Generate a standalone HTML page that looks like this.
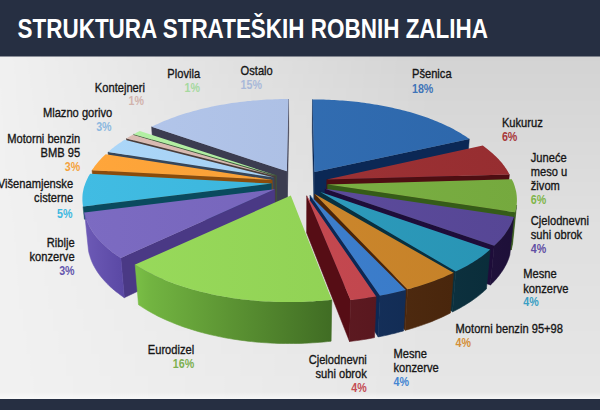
<!DOCTYPE html>
<html><head><meta charset="utf-8"><title>Struktura strateških robnih zaliha</title>
<style>
html,body{margin:0;padding:0;background:#e9e9e9}
body{width:600px;height:410px;overflow:hidden;position:relative;font-family:"Liberation Sans",Arial,sans-serif}
svg{position:absolute;left:0;top:0;display:block}
text{font-family:"Liberation Sans",Arial,sans-serif}
</style></head><body>
<svg width="600" height="410" viewBox="0 0 600 410">
<defs>
<linearGradient id="bgv" x1="0" y1="0" x2="0" y2="1"><stop offset="0" stop-color="#000" stop-opacity="0.125"/><stop offset="0.5" stop-color="#000" stop-opacity="0.075"/><stop offset="1" stop-color="#000" stop-opacity="0.045"/></linearGradient>
<linearGradient id="bgh" x1="0" y1="0" x2="1" y2="0"><stop offset="0" stop-color="#fff" stop-opacity="0.05"/><stop offset="0.72" stop-color="#fff" stop-opacity="1"/><stop offset="1" stop-color="#fff" stop-opacity="1"/></linearGradient>
<mask id="bgm" maskUnits="userSpaceOnUse" x="0" y="0" width="600" height="410"><rect x="0" y="0" width="600" height="410" fill="url(#bgh)"/></mask>
<linearGradient id="bgbot" x1="0" y1="0" x2="0" y2="1"><stop offset="0" stop-color="#fff" stop-opacity="0"/><stop offset="1" stop-color="#fff" stop-opacity="0.6"/></linearGradient>
</defs>
<rect x="0" y="0" width="600" height="410" fill="#f2f2f2"/>
<rect x="0" y="56" width="600" height="343" fill="url(#bgv)" mask="url(#bgm)"/>
<rect x="0" y="392" width="600" height="7" fill="url(#bgbot)"/>
<rect x="0" y="0" width="600" height="56.5" fill="#262f42"/>
<rect x="0" y="399" width="600" height="11" fill="#262f42"/>
<text x="17.5" y="37.5" font-size="27" font-weight="bold" fill="#ffffff" textLength="470.5" lengthAdjust="spacingAndGlyphs">STRUKTURA STRATEŠKIH ROBNIH ZALIHA</text>
<g>
<defs><linearGradient id="t0" gradientUnits="userSpaceOnUse" x1="80" y1="0" x2="520" y2="0"><stop offset="0" stop-color="#3773b8"/><stop offset="1" stop-color="#2c66aa"/></linearGradient><linearGradient id="w0" gradientUnits="userSpaceOnUse" x1="80" y1="0" x2="520" y2="0"><stop offset="0" stop-color="#284779"/><stop offset="1" stop-color="#0c2650"/></linearGradient><linearGradient id="t1" gradientUnits="userSpaceOnUse" x1="80" y1="0" x2="520" y2="0"><stop offset="0" stop-color="#a4383b"/><stop offset="1" stop-color="#962d30"/></linearGradient><linearGradient id="w1" gradientUnits="userSpaceOnUse" x1="80" y1="0" x2="520" y2="0"><stop offset="0" stop-color="#742d31"/><stop offset="1" stop-color="#4b1014"/></linearGradient><linearGradient id="t2" gradientUnits="userSpaceOnUse" x1="80" y1="0" x2="520" y2="0"><stop offset="0" stop-color="#81b74a"/><stop offset="1" stop-color="#75a93e"/></linearGradient><linearGradient id="w2" gradientUnits="userSpaceOnUse" x1="80" y1="0" x2="520" y2="0"><stop offset="0" stop-color="#578035"/><stop offset="1" stop-color="#335617"/></linearGradient><linearGradient id="t3" gradientUnits="userSpaceOnUse" x1="80" y1="0" x2="520" y2="0"><stop offset="0" stop-color="#6351a3"/><stop offset="1" stop-color="#564695"/></linearGradient><linearGradient id="w3" gradientUnits="userSpaceOnUse" x1="80" y1="0" x2="520" y2="0"><stop offset="0" stop-color="#3d2c5d"/><stop offset="1" stop-color="#1d0f38"/></linearGradient><linearGradient id="t4" gradientUnits="userSpaceOnUse" x1="80" y1="0" x2="520" y2="0"><stop offset="0" stop-color="#33a1c3"/><stop offset="1" stop-color="#2894b4"/></linearGradient><linearGradient id="w4" gradientUnits="userSpaceOnUse" x1="80" y1="0" x2="520" y2="0"><stop offset="0" stop-color="#234d5d"/><stop offset="1" stop-color="#082b38"/></linearGradient><linearGradient id="t5" gradientUnits="userSpaceOnUse" x1="80" y1="0" x2="520" y2="0"><stop offset="0" stop-color="#d38d32"/><stop offset="1" stop-color="#c48027"/></linearGradient><linearGradient id="w5" gradientUnits="userSpaceOnUse" x1="80" y1="0" x2="520" y2="0"><stop offset="0" stop-color="#6a4123"/><stop offset="1" stop-color="#432108"/></linearGradient><linearGradient id="t6" gradientUnits="userSpaceOnUse" x1="80" y1="0" x2="520" y2="0"><stop offset="0" stop-color="#4385d4"/><stop offset="1" stop-color="#3778c5"/></linearGradient><linearGradient id="w6" gradientUnits="userSpaceOnUse" x1="80" y1="0" x2="520" y2="0"><stop offset="0" stop-color="#274574"/><stop offset="1" stop-color="#0b244b"/></linearGradient><linearGradient id="t7" gradientUnits="userSpaceOnUse" x1="80" y1="0" x2="520" y2="0"><stop offset="0" stop-color="#cb4e56"/><stop offset="1" stop-color="#bd434a"/></linearGradient><linearGradient id="w7" gradientUnits="userSpaceOnUse" x1="80" y1="0" x2="520" y2="0"><stop offset="0" stop-color="#752b33"/><stop offset="1" stop-color="#4c0e15"/></linearGradient><linearGradient id="t8" gradientUnits="userSpaceOnUse" x1="80" y1="0" x2="520" y2="0"><stop offset="0" stop-color="#99db5c"/><stop offset="1" stop-color="#8ccc50"/></linearGradient><linearGradient id="w8" gradientUnits="userSpaceOnUse" x1="80" y1="0" x2="520" y2="0"><stop offset="0.125" stop-color="#7abf46"/><stop offset="0.160" stop-color="#72b441"/><stop offset="0.340" stop-color="#5c9433"/><stop offset="0.580" stop-color="#3f6b23"/></linearGradient><linearGradient id="t9" gradientUnits="userSpaceOnUse" x1="80" y1="0" x2="520" y2="0"><stop offset="0" stop-color="#7c6bc2"/><stop offset="1" stop-color="#705fb4"/></linearGradient><linearGradient id="w9" gradientUnits="userSpaceOnUse" x1="80" y1="0" x2="520" y2="0"><stop offset="0.000" stop-color="#6f5cb8"/><stop offset="0.100" stop-color="#5a48a4"/></linearGradient><linearGradient id="t10" gradientUnits="userSpaceOnUse" x1="80" y1="0" x2="520" y2="0"><stop offset="0" stop-color="#41bce3"/><stop offset="1" stop-color="#36aed4"/></linearGradient><linearGradient id="w10" gradientUnits="userSpaceOnUse" x1="80" y1="0" x2="520" y2="0"><stop offset="0" stop-color="#318ca6"/><stop offset="1" stop-color="#145f75"/></linearGradient><linearGradient id="t11" gradientUnits="userSpaceOnUse" x1="80" y1="0" x2="520" y2="0"><stop offset="0" stop-color="#ffa63b"/><stop offset="1" stop-color="#f09830"/></linearGradient><linearGradient id="w11" gradientUnits="userSpaceOnUse" x1="80" y1="0" x2="520" y2="0"><stop offset="0" stop-color="#bf792f"/><stop offset="1" stop-color="#8a5012"/></linearGradient><linearGradient id="t12" gradientUnits="userSpaceOnUse" x1="80" y1="0" x2="520" y2="0"><stop offset="0" stop-color="#acd7f9"/><stop offset="1" stop-color="#9fc8ea"/></linearGradient><linearGradient id="w12" gradientUnits="userSpaceOnUse" x1="80" y1="0" x2="520" y2="0"><stop offset="0" stop-color="#7da1c1"/><stop offset="1" stop-color="#53718c"/></linearGradient><linearGradient id="t13" gradientUnits="userSpaceOnUse" x1="80" y1="0" x2="520" y2="0"><stop offset="0" stop-color="#dbbcb4"/><stop offset="1" stop-color="#ccaea6"/></linearGradient><linearGradient id="w13" gradientUnits="userSpaceOnUse" x1="80" y1="0" x2="520" y2="0"><stop offset="0" stop-color="#9a847e"/><stop offset="1" stop-color="#6b5854"/></linearGradient><linearGradient id="t14" gradientUnits="userSpaceOnUse" x1="80" y1="0" x2="520" y2="0"><stop offset="0" stop-color="#b4f2a5"/><stop offset="1" stop-color="#a6e397"/></linearGradient><linearGradient id="w14" gradientUnits="userSpaceOnUse" x1="80" y1="0" x2="520" y2="0"><stop offset="0" stop-color="#7db175"/><stop offset="1" stop-color="#537e4c"/></linearGradient><linearGradient id="t15" gradientUnits="userSpaceOnUse" x1="80" y1="0" x2="520" y2="0"><stop offset="0" stop-color="#b4c7ec"/><stop offset="1" stop-color="#a6b9dd"/></linearGradient><linearGradient id="w15" gradientUnits="userSpaceOnUse" x1="80" y1="0" x2="520" y2="0"><stop offset="0" stop-color="#94a2c1"/><stop offset="1" stop-color="#66728c"/></linearGradient></defs>
<path d="M314.4 171.9L312.5 99.5L312.3 132.0L314.2 207.9Z" fill="#0b2855" stroke="#0b2855" stroke-width="0.5"/>
<path d="M314.4 171.9L469.3 138.9L466.5 173.4L314.2 207.9Z" fill="#0b2855" stroke="#0b2855" stroke-width="0.5"/>
<path d="M326.8 179.5L509.4 174.5L505.8 210.6L326.3 215.9Z" fill="#4e0e12" stroke="#4e0e12" stroke-width="0.5"/>
<path d="M327.6 184.4L515.1 212.2L511.1 250.0L327.1 221.0Z" fill="#355c18" stroke="#355c18" stroke-width="0.5"/>
<path d="M516.6 205.0L516.4 206.4L516.1 207.8L515.8 209.3L515.5 210.7L515.1 212.2L511.1 250.0L511.5 248.5L511.9 247.0L512.2 245.5L512.5 244.0L512.7 242.5Z" fill="url(#w2)" stroke="url(#w2)" stroke-width="0.6"/>
<path d="M325.0 188.7L494.2 245.7L490.4 285.0L324.5 225.5Z" fill="#1e0d3a" stroke="#1e0d3a" stroke-width="0.5"/>
<path d="M513.8 216.9L513.3 218.5L512.7 220.0L512.1 221.6L511.5 223.1L510.7 224.7L509.9 226.2L509.1 227.8L508.2 229.3L507.2 230.8L506.2 232.3L505.1 233.9L504.0 235.4L502.7 236.9L501.5 238.4L500.1 239.9L498.8 241.3L497.3 242.8L495.8 244.3L494.2 245.7L490.4 285.0L492.0 283.5L493.5 281.9L494.9 280.4L496.3 278.9L497.6 277.3L498.9 275.8L500.0 274.2L501.2 272.6L502.3 271.0L503.3 269.4L504.2 267.9L505.1 266.3L506.0 264.7L506.8 263.1L507.5 261.4L508.2 259.8L508.8 258.2L509.3 256.6L509.8 255.0Z" fill="url(#w3)" stroke="url(#w3)" stroke-width="0.6"/>
<path d="M320.3 191.9L455.7 271.6L452.6 311.8L319.9 228.8Z" fill="#08303f" stroke="#08303f" stroke-width="0.5"/>
<path d="M490.1 249.6L488.4 251.0L486.7 252.5L484.9 254.0L483.0 255.4L481.0 256.9L479.0 258.3L477.0 259.7L474.9 261.1L472.7 262.5L470.4 263.8L468.1 265.2L465.8 266.5L463.3 267.8L460.9 269.1L458.3 270.3L455.7 271.6L452.6 311.8L455.1 310.6L457.6 309.3L460.1 307.9L462.4 306.6L464.8 305.2L467.0 303.8L469.2 302.4L471.4 301.0L473.5 299.5L475.5 298.1L477.5 296.6L479.4 295.1L481.2 293.6L483.0 292.1L484.7 290.5L486.4 289.0Z" fill="url(#w4)" stroke="url(#w4)" stroke-width="0.6"/>
<path d="M314.7 194.1L407.5 289.3L405.2 330.3L314.5 231.1Z" fill="#4c2408" stroke="#4c2408" stroke-width="0.5"/>
<path d="M453.5 272.7L451.0 273.9L448.4 275.1L445.8 276.2L443.2 277.4L440.4 278.5L437.7 279.6L434.8 280.7L432.0 281.8L429.1 282.8L426.1 283.8L423.1 284.8L420.1 285.7L417.0 286.7L413.9 287.6L410.7 288.5L407.5 289.3L405.2 330.3L408.4 329.4L411.5 328.5L414.6 327.6L417.6 326.6L420.6 325.6L423.5 324.6L426.4 323.5L429.3 322.5L432.1 321.4L434.8 320.2L437.6 319.1L440.2 317.9L442.9 316.7L445.4 315.5L447.9 314.3L450.4 313.0Z" fill="url(#w5)" stroke="url(#w5)" stroke-width="0.6"/>
<path d="M310.0 195.2L379.9 295.7L378.2 336.9L309.8 232.3Z" fill="#0c2855" stroke="#0c2855" stroke-width="0.5"/>
<path d="M405.8 289.9L402.6 290.7L399.5 291.5L396.3 292.3L393.1 293.0L389.8 293.7L386.6 294.4L383.3 295.1L379.9 295.7L378.2 336.9L381.5 336.3L384.8 335.6L388.0 334.9L391.2 334.1L394.3 333.4L397.4 332.6L400.5 331.7L403.6 330.9Z" fill="url(#w6)" stroke="url(#w6)" stroke-width="0.6"/>
<path d="M306.7 195.7L350.5 300.1L349.5 341.5L306.6 232.8Z" fill="#560d15" stroke="#560d15" stroke-width="0.5"/>
<path d="M376.1 296.4L372.6 297.0L368.9 297.6L365.3 298.2L361.6 298.7L358.0 299.2L354.3 299.7L350.5 300.1L349.5 341.5L353.1 341.0L356.7 340.6L360.3 340.1L363.9 339.5L367.5 338.9L371.0 338.3L374.5 337.6Z" fill="url(#w7)" stroke="url(#w7)" stroke-width="0.6"/>
<path d="M286.9 171.3L151.6 126.8L154.0 160.7L287.1 207.3Z" fill="#3b3c50" stroke="#3b3c50" stroke-width="0.5"/>
<path d="M286.9 171.3L288.5 99.0L288.7 131.6L287.1 207.3Z" fill="#3b3c50" stroke="#3b3c50" stroke-width="0.5"/>
<path d="M276.4 175.5L133.7 134.2L136.4 168.5L276.8 211.8Z" fill="#3c5a3a" stroke="#3c5a3a" stroke-width="0.5"/>
<path d="M275.5 176.2L126.4 138.5L129.2 173.0L275.9 212.4Z" fill="#4a3c3a" stroke="#4a3c3a" stroke-width="0.5"/>
<path d="M274.0 177.6L108.0 152.1L111.2 187.3L274.4 213.9Z" fill="#36465a" stroke="#36465a" stroke-width="0.5"/>
<path d="M272.2 179.9L92.0 170.2L95.6 206.2L272.7 216.3Z" fill="#8a4c0c" stroke="#8a4c0c" stroke-width="0.5"/>
<path d="M271.4 183.6L83.0 206.5L84.4 219.2L271.9 220.2Z" fill="#0a4a5e" stroke="#0a4a5e" stroke-width="0.5"/>
<path d="M274.7 189.2L120.8 257.9L124.3 297.7L275.1 226.0Z" fill="#4a3985" stroke="#4a3985" stroke-width="0.5"/>
<path d="M120.8 257.9L118.7 256.5L116.6 255.2L114.7 253.8L112.7 252.4L110.9 250.9L109.1 249.5L107.4 248.0L105.7 246.6L104.1 245.1L102.5 243.6L101.0 242.1L99.6 240.6L98.2 239.1L96.9 237.6L95.7 236.0L94.5 234.5L93.4 233.0L92.4 231.4L91.4 229.8L90.5 228.3L89.6 226.7L88.8 225.1L88.0 223.6L87.4 222.0L86.8 220.4L86.2 218.8L85.7 217.3L85.3 215.7L84.9 214.1L84.6 212.5L88.5 250.4L88.8 252.0L89.2 253.7L89.7 255.3L90.2 257.0L90.7 258.6L91.3 260.3L92.0 261.9L92.7 263.5L93.5 265.2L94.4 266.8L95.3 268.4L96.3 270.1L97.3 271.7L98.4 273.3L99.6 274.9L100.8 276.5L102.1 278.1L103.5 279.7L104.9 281.2L106.3 282.8L107.9 284.3L109.4 285.9L111.1 287.4L112.8 288.9L114.6 290.4L116.4 291.9L118.3 293.3L120.2 294.8L122.2 296.2L124.3 297.7Z" fill="url(#w9)" stroke="url(#w9)" stroke-width="0.6"/>
<path d="M331.8 299.8L328.0 300.2L324.2 300.5L320.3 300.9L316.5 301.1L312.6 301.4L308.7 301.6L304.9 301.8L301.0 301.9L297.1 302.0L293.2 302.1L289.3 302.1L285.4 302.1L281.5 302.0L277.6 301.9L273.7 301.8L269.9 301.6L266.0 301.4L262.1 301.2L258.3 300.9L254.5 300.6L250.7 300.2L246.9 299.8L243.1 299.4L239.4 298.9L235.6 298.4L231.9 297.9L228.3 297.3L224.6 296.7L221.0 296.0L217.4 295.4L213.9 294.7L210.4 293.9L206.9 293.1L203.4 292.3L200.0 291.5L196.7 290.6L193.3 289.7L190.1 288.8L186.8 287.8L183.6 286.8L180.5 285.8L177.4 284.8L174.4 283.7L171.4 282.6L168.4 281.4L165.5 280.3L162.7 279.1L159.9 277.9L157.2 276.7L154.5 275.4L151.9 274.1L149.3 272.8L146.8 271.5L144.4 270.2L142.0 268.8L139.7 267.4L137.4 266.1L135.2 264.6L138.5 304.7L140.6 306.1L142.9 307.6L145.2 309.0L147.5 310.4L149.9 311.8L152.4 313.2L154.9 314.5L157.4 315.9L160.1 317.2L162.7 318.4L165.5 319.7L168.3 320.9L171.1 322.1L174.0 323.3L176.9 324.4L179.9 325.6L182.9 326.7L186.0 327.7L189.2 328.7L192.3 329.7L195.5 330.7L198.8 331.7L202.1 332.6L205.4 333.4L208.8 334.3L212.2 335.1L215.7 335.8L219.1 336.6L222.6 337.3L226.2 338.0L229.8 338.6L233.4 339.2L237.0 339.7L240.6 340.3L244.3 340.7L248.0 341.2L251.7 341.6L255.4 342.0L259.2 342.3L262.9 342.6L266.7 342.8L270.5 343.1L274.3 343.2L278.1 343.4L281.9 343.5L285.7 343.5L289.5 343.5L293.3 343.5L297.1 343.5L300.9 343.4L304.7 343.2L308.5 343.1L312.3 342.8L316.1 342.6L319.9 342.3L323.6 342.0L327.4 341.6L331.1 341.2Z" fill="url(#w8)" stroke="url(#w8)" stroke-width="0.6"/>
<path d="M314.4 171.9L312.5 99.5L315.3 99.5L318.0 99.5L320.7 99.5L323.5 99.6L326.2 99.7L328.9 99.8L331.7 99.9L334.4 100.1L337.1 100.2L339.8 100.4L342.5 100.6L345.2 100.8L347.9 101.0L350.6 101.3L353.3 101.6L356.0 101.8L358.7 102.1L361.3 102.5L364.0 102.8L366.7 103.2L369.3 103.6L371.9 104.0L374.5 104.4L377.1 104.8L379.7 105.3L382.3 105.7L384.9 106.2L387.5 106.7L390.0 107.3L392.5 107.8L395.0 108.4L397.5 109.0L400.0 109.6L402.5 110.2L404.9 110.8L407.4 111.5L409.8 112.1L412.2 112.8L414.6 113.5L416.9 114.2L419.2 115.0L421.6 115.7L423.9 116.5L426.1 117.3L428.4 118.1L430.6 118.9L432.8 119.8L435.0 120.7L437.1 121.5L439.2 122.4L441.3 123.3L443.4 124.3L445.5 125.2L447.5 126.2L449.5 127.1L451.4 128.1L453.4 129.1L455.3 130.2L457.1 131.2L459.0 132.2L460.8 133.3L462.5 134.4L464.3 135.5L466.0 136.6L467.6 137.7L469.3 138.9Z" fill="url(#t0)"/>
<path d="M326.8 179.5L482.8 145.6L484.4 146.8L486.0 148.0L487.6 149.2L489.1 150.4L490.6 151.7L492.1 152.9L493.5 154.2L494.8 155.4L496.2 156.7L497.4 158.0L498.7 159.3L499.9 160.7L501.1 162.0L502.2 163.3L503.2 164.7L504.3 166.1L505.2 167.4L506.2 168.8L507.1 170.2L507.9 171.6L508.7 173.0L509.4 174.5Z" fill="url(#t1)"/>
<path d="M327.6 184.4L511.8 179.2L512.5 180.7L513.2 182.1L513.8 183.6L514.3 185.0L514.8 186.5L515.2 188.0L515.6 189.4L516.0 190.9L516.3 192.4L516.5 193.9L516.7 195.4L516.8 196.9L516.9 198.4L516.9 200.0L516.9 201.5L516.8 203.0L516.7 204.5L516.5 206.0L516.2 207.6L515.9 209.1L515.5 210.6L515.1 212.2Z" fill="url(#t2)"/>
<path d="M325.0 188.7L513.8 216.9L513.3 218.5L512.7 220.0L512.1 221.6L511.5 223.1L510.7 224.7L509.9 226.2L509.1 227.8L508.2 229.3L507.2 230.8L506.2 232.3L505.1 233.9L504.0 235.4L502.7 236.9L501.5 238.4L500.1 239.9L498.8 241.3L497.3 242.8L495.8 244.3L494.2 245.7Z" fill="url(#t3)"/>
<path d="M320.3 191.9L490.1 249.6L488.4 251.0L486.7 252.5L484.9 254.0L483.0 255.4L481.0 256.9L479.0 258.3L477.0 259.7L474.9 261.1L472.7 262.5L470.4 263.8L468.1 265.2L465.8 266.5L463.3 267.8L460.9 269.1L458.3 270.3L455.7 271.6Z" fill="url(#t4)"/>
<path d="M314.7 194.1L453.5 272.7L451.0 273.9L448.4 275.1L445.8 276.2L443.2 277.4L440.4 278.5L437.7 279.6L434.8 280.7L432.0 281.8L429.1 282.8L426.1 283.8L423.1 284.8L420.1 285.7L417.0 286.7L413.9 287.6L410.7 288.5L407.5 289.3Z" fill="url(#t5)"/>
<path d="M310.0 195.2L405.8 289.9L402.6 290.7L399.5 291.5L396.3 292.3L393.1 293.0L389.8 293.7L386.6 294.4L383.3 295.1L379.9 295.7Z" fill="url(#t6)"/>
<path d="M306.7 195.7L376.1 296.4L372.6 297.0L368.9 297.6L365.3 298.2L361.6 298.7L358.0 299.2L354.3 299.7L350.5 300.1Z" fill="url(#t7)"/>
<path d="M286.9 171.3L151.6 126.8L153.6 125.8L155.6 124.8L157.7 123.9L159.7 122.9L161.8 122.0L164.0 121.1L166.1 120.3L168.3 119.4L170.5 118.6L172.7 117.7L174.9 116.9L177.2 116.1L179.5 115.3L181.8 114.6L184.1 113.8L186.5 113.1L188.9 112.4L191.3 111.7L193.7 111.1L196.1 110.4L198.6 109.8L201.0 109.1L203.5 108.5L206.0 108.0L208.5 107.4L211.0 106.8L213.6 106.3L216.1 105.8L218.7 105.3L221.3 104.8L223.9 104.4L226.5 104.0L229.1 103.5L231.7 103.1L234.4 102.8L237.0 102.4L239.7 102.0L242.4 101.7L245.0 101.4L247.7 101.1L250.4 100.9L253.1 100.6L255.8 100.4L258.5 100.2L261.2 100.0L263.9 99.8L266.7 99.6L269.4 99.5L272.1 99.4L274.9 99.3L277.6 99.2L280.3 99.1L283.1 99.1L285.8 99.0L288.5 99.0Z" fill="url(#t15)"/>
<path d="M276.4 175.5L133.7 134.2L135.2 133.4L136.7 132.6L138.3 131.7L139.8 130.9Z" fill="url(#t14)"/>
<path d="M275.5 176.2L126.4 138.5L127.9 137.6L129.5 136.6L131.1 135.7L132.7 134.8Z" fill="url(#t13)"/>
<path d="M274.0 177.6L108.0 152.1L109.3 150.9L110.7 149.8L112.1 148.6L113.6 147.4L115.0 146.3L116.5 145.2L118.1 144.1L119.7 143.0L121.3 141.9L122.9 140.8L124.6 139.7Z" fill="url(#t12)"/>
<path d="M272.2 179.9L92.0 170.2L92.9 168.8L93.9 167.4L94.8 166.1L95.9 164.7L96.9 163.4L98.1 162.0L99.2 160.7L100.4 159.4L101.7 158.1L103.0 156.8L104.3 155.5L105.7 154.3Z" fill="url(#t11)"/>
<path d="M271.4 183.6L83.0 206.5L82.8 205.0L82.6 203.5L82.5 201.9L82.4 200.4L82.4 198.9L82.4 197.4L82.5 195.8L82.6 194.3L82.8 192.8L83.1 191.3L83.4 189.8L83.7 188.3L84.1 186.8L84.6 185.4L85.1 183.9L85.7 182.4L86.3 181.0L87.0 179.5L87.7 178.1L88.4 176.6L89.2 175.2L90.1 173.8Z" fill="url(#t10)"/>
<path d="M274.7 189.2L120.8 257.9L118.7 256.5L116.6 255.2L114.7 253.8L112.7 252.4L110.9 250.9L109.1 249.5L107.4 248.0L105.7 246.6L104.1 245.1L102.5 243.6L101.0 242.1L99.6 240.6L98.2 239.1L96.9 237.6L95.7 236.0L94.5 234.5L93.4 233.0L92.4 231.4L91.4 229.8L90.5 228.3L89.6 226.7L88.8 225.1L88.0 223.6L87.4 222.0L86.8 220.4L86.2 218.8L85.7 217.3L85.3 215.7L84.9 214.1L84.6 212.5Z" fill="url(#t9)"/>
<path d="M290.8 195.5L331.8 299.8L328.0 300.2L324.2 300.5L320.3 300.9L316.5 301.1L312.6 301.4L308.7 301.6L304.9 301.8L301.0 301.9L297.1 302.0L293.2 302.1L289.3 302.1L285.4 302.1L281.5 302.0L277.6 301.9L273.7 301.8L269.9 301.6L266.0 301.4L262.1 301.2L258.3 300.9L254.5 300.6L250.7 300.2L246.9 299.8L243.1 299.4L239.4 298.9L235.6 298.4L231.9 297.9L228.3 297.3L224.6 296.7L221.0 296.0L217.4 295.4L213.9 294.7L210.4 293.9L206.9 293.1L203.4 292.3L200.0 291.5L196.7 290.6L193.3 289.7L190.1 288.8L186.8 287.8L183.6 286.8L180.5 285.8L177.4 284.8L174.4 283.7L171.4 282.6L168.4 281.4L165.5 280.3L162.7 279.1L159.9 277.9L157.2 276.7L154.5 275.4L151.9 274.1L149.3 272.8L146.8 271.5L144.4 270.2L142.0 268.8L139.7 267.4L137.4 266.1L135.2 264.6Z" fill="url(#t8)"/>

</g>
<g>
<text transform="translate(412.0 78.3) scale(0.857 1)" text-anchor="start" font-size="13" fill="#161616" stroke="#161616" stroke-width="0.35">Pšenica</text>
<text transform="translate(412.0 92.5) scale(0.890 1)" text-anchor="start" font-size="12" font-weight="bold" fill="#3f74b8">18%</text>
<text transform="translate(501.9 127.4) scale(0.857 1)" text-anchor="start" font-size="13" fill="#161616" stroke="#161616" stroke-width="0.35">Kukuruz</text>
<text transform="translate(501.9 141.2) scale(0.890 1)" text-anchor="start" font-size="12" font-weight="bold" fill="#a8373a">6%</text>
<text transform="translate(530.8 162.1) scale(0.857 1)" text-anchor="start" font-size="13" fill="#161616" stroke="#161616" stroke-width="0.35">Juneće</text>
<text transform="translate(530.8 176.0) scale(0.857 1)" text-anchor="start" font-size="13" fill="#161616" stroke="#161616" stroke-width="0.35">meso u</text>
<text transform="translate(530.8 189.7) scale(0.857 1)" text-anchor="start" font-size="13" fill="#161616" stroke="#161616" stroke-width="0.35">živom</text>
<text transform="translate(530.8 204.4) scale(0.890 1)" text-anchor="start" font-size="12" font-weight="bold" fill="#7fb54a">6%</text>
<text transform="translate(530.8 225.0) scale(0.857 1)" text-anchor="start" font-size="13" fill="#161616" stroke="#161616" stroke-width="0.35">Cjelodnevni</text>
<text transform="translate(530.8 238.5) scale(0.857 1)" text-anchor="start" font-size="13" fill="#161616" stroke="#161616" stroke-width="0.35">suhi obrok</text>
<text transform="translate(530.8 253.2) scale(0.890 1)" text-anchor="start" font-size="12" font-weight="bold" fill="#5f4ea3">4%</text>
<text transform="translate(523.3 278.3) scale(0.857 1)" text-anchor="start" font-size="13" fill="#161616" stroke="#161616" stroke-width="0.35">Mesne</text>
<text transform="translate(523.3 292.5) scale(0.857 1)" text-anchor="start" font-size="13" fill="#161616" stroke="#161616" stroke-width="0.35">konzerve</text>
<text transform="translate(523.3 306.3) scale(0.890 1)" text-anchor="start" font-size="12" font-weight="bold" fill="#3a9fc4">4%</text>
<text transform="translate(455.6 333.4) scale(0.857 1)" text-anchor="start" font-size="13" fill="#161616" stroke="#161616" stroke-width="0.35">Motorni benzin 95+98</text>
<text transform="translate(455.6 347.4) scale(0.890 1)" text-anchor="start" font-size="12" font-weight="bold" fill="#d48f38">4%</text>
<text transform="translate(393.5 357.7) scale(0.857 1)" text-anchor="start" font-size="13" fill="#161616" stroke="#161616" stroke-width="0.35">Mesne</text>
<text transform="translate(393.5 371.5) scale(0.857 1)" text-anchor="start" font-size="13" fill="#161616" stroke="#161616" stroke-width="0.35">konzerve</text>
<text transform="translate(393.5 385.7) scale(0.890 1)" text-anchor="start" font-size="12" font-weight="bold" fill="#4485d2">4%</text>
<text transform="translate(366.8 363.8) scale(0.857 1)" text-anchor="end" font-size="13" fill="#161616" stroke="#161616" stroke-width="0.35">Cjelodnevni</text>
<text transform="translate(366.8 377.7) scale(0.857 1)" text-anchor="end" font-size="13" fill="#161616" stroke="#161616" stroke-width="0.35">suhi obrok</text>
<text transform="translate(366.8 391.8) scale(0.890 1)" text-anchor="end" font-size="12" font-weight="bold" fill="#c44b53">4%</text>
<text transform="translate(194.2 353.7) scale(0.857 1)" text-anchor="end" font-size="13" fill="#161616" stroke="#161616" stroke-width="0.35">Eurodizel</text>
<text transform="translate(194.2 367.5) scale(0.890 1)" text-anchor="end" font-size="12" font-weight="bold" fill="#7cb050">16%</text>
<text transform="translate(74.6 246.6) scale(0.857 1)" text-anchor="end" font-size="13" fill="#161616" stroke="#161616" stroke-width="0.35">Riblje</text>
<text transform="translate(74.6 260.6) scale(0.857 1)" text-anchor="end" font-size="13" fill="#161616" stroke="#161616" stroke-width="0.35">konzerve</text>
<text transform="translate(74.6 275.3) scale(0.890 1)" text-anchor="end" font-size="12" font-weight="bold" fill="#6456ad">3%</text>
<text transform="translate(73.1 188.4) scale(0.857 1)" text-anchor="end" font-size="13" fill="#161616" stroke="#161616" stroke-width="0.35">Višenamjenske</text>
<text transform="translate(73.1 202.2) scale(0.857 1)" text-anchor="end" font-size="13" fill="#161616" stroke="#161616" stroke-width="0.35">cisterne</text>
<text transform="translate(72.5 217.7) scale(0.890 1)" text-anchor="end" font-size="12" font-weight="bold" fill="#3fb8e0">5%</text>
<text transform="translate(80.2 143.1) scale(0.857 1)" text-anchor="end" font-size="13" fill="#161616" stroke="#161616" stroke-width="0.35">Motorni benzin</text>
<text transform="translate(80.2 157.2) scale(0.857 1)" text-anchor="end" font-size="13" fill="#161616" stroke="#161616" stroke-width="0.35">BMB 95</text>
<text transform="translate(80.2 171.3) scale(0.890 1)" text-anchor="end" font-size="12" font-weight="bold" fill="#f5a23c">3%</text>
<text transform="translate(112.2 117.3) scale(0.857 1)" text-anchor="end" font-size="13" fill="#161616" stroke="#161616" stroke-width="0.35">Mlazno gorivo</text>
<text transform="translate(111.6 131.2) scale(0.890 1)" text-anchor="end" font-size="12" font-weight="bold" fill="#8db9e0">3%</text>
<text transform="translate(145.0 91.7) scale(0.857 1)" text-anchor="end" font-size="13" fill="#161616" stroke="#161616" stroke-width="0.35">Kontejneri</text>
<text transform="translate(144.0 105.0) scale(0.890 1)" text-anchor="end" font-size="12" font-weight="bold" fill="#d2b3ac">1%</text>
<text transform="translate(200.1 78.0) scale(0.857 1)" text-anchor="end" font-size="13" fill="#161616" stroke="#161616" stroke-width="0.35">Plovila</text>
<text transform="translate(200.0 92.1) scale(0.890 1)" text-anchor="end" font-size="12" font-weight="bold" fill="#a6d9a0">1%</text>
<text transform="translate(240.6 75.2) scale(0.857 1)" text-anchor="start" font-size="13" fill="#161616" stroke="#161616" stroke-width="0.35">Ostalo</text>
<text transform="translate(240.6 89.3) scale(0.890 1)" text-anchor="start" font-size="12" font-weight="bold" fill="#a9b9d9">15%</text>
</g>
</svg>
</body></html>
